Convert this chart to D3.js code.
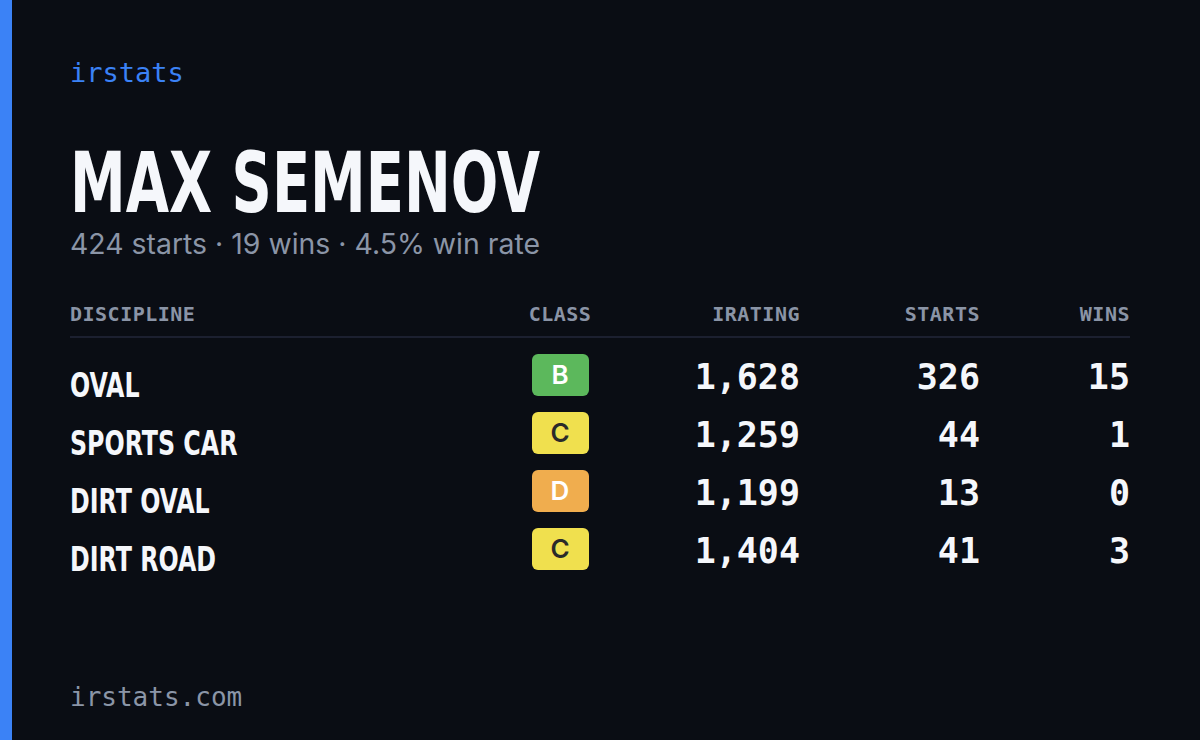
<!DOCTYPE html>
<html><head><meta charset="utf-8">
<script src="https://cdn.jsdelivr.net/npm/d3@7"></script>
<style>body{margin:0;background:#0a0d14}</style>
</head><body>
<script>
// data
var disciplines = ["OVAL", "SPORTS CAR", "DIRT OVAL", "DIRT ROAD"];
var classes = ["B", "C", "D", "C"];
var iratings = [1628, 1259, 1199, 1404];
var starts = [326, 44, 13, 41];
var wins = [15, 1, 0, 3];
var headers = ["DISCIPLINE", "CLASS", "IRATING", "STARTS", "WINS"];

var classFill = {B: "#5cb85c", C: "#f0e04e", D: "#f0ad4e"};
var classText = {B: "#ffffff", C: "#2a2a2a", D: "#ffffff"};

var mono = "'DejaVu Sans Mono', 'Liberation Mono', monospace";
var cond = "'DejaVu Sans Condensed', 'Liberation Sans', sans-serif";
var sans = "Inter, 'Noto Sans', sans-serif";

var svg = d3.select("body").append("svg").attr("width", 1200).attr("height", 740);
svg.append("rect").attr("width", 1200).attr("height", 740).attr("fill", "#0a0d14");
svg.append("rect").attr("width", 12).attr("height", 740).attr("fill", "#3b82f6");

svg.append("text").attr("x", 70).attr("y", 82).text("irstats")
    .attr("font-family", mono).attr("font-weight", 500).attr("font-size", 27).attr("fill", "#3b82f6");

svg.append("text").attr("x", 70).attr("y", 212).text("MAX SEMENOV")
    .attr("font-family", cond).attr("font-weight", "bold").attr("font-size", 84)
    .attr("fill", "#f5f7fb").attr("textLength", 470).attr("lengthAdjust", "spacingAndGlyphs");

var totalStarts = d3.sum(starts), totalWins = d3.sum(wins);
svg.append("text").attr("x", 70).attr("y", 254)
    .text(totalStarts + " starts · " + totalWins + " wins · " + d3.format(".1%")(totalWins / totalStarts) + " win rate")
    .attr("font-family", sans).attr("font-size", 28).attr("fill", "#8b95a7")
    .attr("textLength", 470).attr("lengthAdjust", "spacingAndGlyphs");

// columns: x position and anchor
var cols = [
    {x: 70, anchor: "start"},
    {x: 560, anchor: "middle"},
    {x: 800, anchor: "end"},
    {x: 980, anchor: "end"},
    {x: 1130, anchor: "end"}
];

svg.selectAll(".hdr").data(headers).join("text")
    .attr("x", (d, i) => cols[i].x).attr("y", 321).attr("text-anchor", (d, i) => cols[i].anchor)
    .attr("font-family", mono).attr("font-weight", "bold").attr("font-size", 20).attr("letter-spacing", 0.5)
    .attr("fill", "#8a94a6").text(d => d);

svg.append("line").attr("x1", 70).attr("x2", 1130).attr("y1", 337).attr("y2", 337)
    .attr("stroke", "#1c2030").attr("stroke-width", 2);

var y = d3.scaleBand().domain(d3.range(disciplines.length)).range([346, 578]);

var rows = svg.selectAll(".row").data(disciplines).join("g")
    .attr("transform", (d, i) => "translate(0," + (y(i) + y.bandwidth() / 2) + ")");

rows.append("text").attr("x", 70).attr("y", 22).text(d => d)
    .attr("font-family", cond).attr("font-weight", "bold").attr("font-size", 33)
    .attr("fill", "#f5f7fb")
    .each(function () { d3.select(this).attr("textLength", this.getComputedTextLength() * 0.8).attr("lengthAdjust", "spacingAndGlyphs"); });

rows.append("rect").attr("x", 532).attr("y", -21).attr("width", 57).attr("height", 42).attr("rx", 6)
    .attr("fill", (d, i) => classFill[classes[i]]);
rows.append("text").attr("x", 560).attr("y", 9).attr("text-anchor", "middle")
    .attr("font-family", sans).attr("font-weight", 600).attr("font-size", 26)
    .attr("fill", (d, i) => classText[classes[i]]).text((d, i) => classes[i]);

var numCols = [iratings.map(d3.format(",")), starts, wins];
numCols.forEach(function (vals, c) {
    rows.append("text").attr("x", cols[c + 2].x).attr("y", 14).attr("text-anchor", "end")
        .attr("font-family", mono).attr("font-weight", 600).attr("font-size", 35)
        .attr("fill", "#f5f7fb").text((d, i) => vals[i]);
});

svg.append("text").attr("x", 70).attr("y", 706).text("irstats.com")
    .attr("font-family", mono).attr("font-weight", 500).attr("font-size", 26).attr("fill", "#8b95a7");
</script>
</body></html>
